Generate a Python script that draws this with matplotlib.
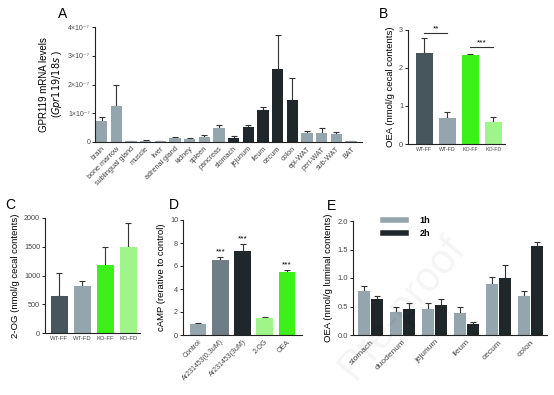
import numpy as np
import matplotlib
matplotlib.use("Agg")
import matplotlib.pyplot as plt
from matplotlib.lines import Line2D

plt.rcParams['font.family'] = ['Liberation Sans', 'DejaVu Sans']

# ---- data ----
tissues = ["brain", "bone marrow", "sublingual gland", "muscle", "liver", "adrenal gland",
           "kidney", "spleen", "pancreas", "stomach", "jejunum", "ileum", "cecum", "colon",
           "epi-WAT", "peri-WAT", "sub-WAT", "BAT"]
gpr119 = [0.72, 1.25, 0.03, 0.04, 0.03, 0.14, 0.10, 0.16, 0.47, 0.13, 0.52, 1.12, 2.55, 1.46,
          0.30, 0.33, 0.28, 0.03]
gpr119_err = [0.15, 0.75, 0.01, 0.04, 0.01, 0.05, 0.04, 0.07, 0.13, 0.07, 0.08, 0.11, 1.18, 0.76,
              0.10, 0.17, 0.07, 0.02]
gut = ["stomach", "jejunum", "ileum", "cecum", "colon"]

groups = ["WT-FF", "WT-FD", "KO-FF", "KO-FD"]
oea_cecal = [2.40, 0.68, 2.33, 0.57]
oea_cecal_err = [0.40, 0.17, 0.05, 0.13]

og_cecal = [640, 820, 1190, 1490]
og_cecal_err = [410, 80, 300, 420]

treatments = ["Control", "Ar231453(0.3uM)", "Ar231453(3uM)", "2-OG", "OEA"]
camp = [1.0, 6.5, 7.3, 1.45, 5.45]
camp_err = [0.08, 0.25, 0.6, 0.13, 0.2]

sites = ["stomach", "duodenum", "jejunum", "ileum", "cecum", "colon"]
oea_1h = [0.78, 0.40, 0.45, 0.38, 0.90, 0.69]
oea_1h_err = [0.08, 0.10, 0.12, 0.12, 0.12, 0.08]
oea_2h = [0.64, 0.45, 0.53, 0.20, 1.00, 1.56]
oea_2h_err = [0.04, 0.11, 0.10, 0.03, 0.22, 0.07]

LIGHT = "#95a5ae"
DARK = "#1f272b"
SLATE = "#47555d"
MID = "#6e7d86"
GREEN = "#3ef01a"
LGREEN = "#a0f58a"
TICK = "#444444"

W, H = 554, 395
fig = plt.figure(figsize=(W / 100, H / 100), dpi=100)


def box(x0, x1, ytop, ybot):
    return [x0 / W, (H - ybot) / H, (x1 - x0) / W, (ybot - ytop) / H]


def style(ax, xsize=4.5, ysize=5.2):
    for s in ["top", "right"]:
        ax.spines[s].set_visible(False)
    for s in ["left", "bottom"]:
        ax.spines[s].set_linewidth(0.8)
        ax.spines[s].set_color("#222222")
    ax.tick_params(axis="both", length=2, width=0.7, colors="#222222",
                   labelcolor=TICK, pad=1.5)
    ax.tick_params(axis="y", labelsize=ysize)
    ax.tick_params(axis="x", length=0, labelsize=xsize, pad=2.5)


def bars(ax, x, vals, errs, colors, width=0.75):
    ax.bar(x, vals, width=width, color=colors, zorder=2)
    ax.errorbar(x, vals, yerr=[np.zeros(len(vals)), errs], fmt="none", ecolor="#333333",
                elinewidth=0.8, capsize=2.3, capthick=0.8, zorder=1)


# ---- A ----
axA = fig.add_axes(box(95, 362, 27, 142))
colA = [DARK if t in gut else LIGHT for t in tissues]
xA = np.arange(len(tissues))
bars(axA, xA, np.array(gpr119) * 1e-7, np.array(gpr119_err) * 1e-7, colA, width=0.78)
axA.set_xlim(-0.45, len(tissues) - 0.25)
axA.set_ylim(0, 4e-7)
axA.set_yticks([0, 1e-7, 2e-7, 3e-7, 4e-7])
axA.set_yticklabels(["0", "1×10⁻⁷", "2×10⁻⁷", "3×10⁻⁷", "4×10⁻⁷"])
axA.set_xticks(xA)
axA.set_xticklabels(tissues, rotation=45, ha="right", rotation_mode="anchor")
style(axA, xsize=5.2, ysize=5.0)
axA.set_ylabel("GPR119 mRNA levels\n(" + r"$\it{Gpr119/18s}$" + " )", fontsize=7, labelpad=3,
               linespacing=1.1)

# ---- B ----
axB = fig.add_axes(box(408, 505, 30, 144))
xB = np.arange(4)
bars(axB, xB, oea_cecal, oea_cecal_err, [SLATE, LIGHT, GREEN, LGREEN])
axB.set_xlim(-0.7, 3.5)
axB.set_ylim(0, 3)
axB.set_yticks([0, 1, 2, 3])
axB.set_xticks(xB)
axB.set_xticklabels(groups)
style(axB, xsize=3.8, ysize=5.2)
axB.set_ylabel("OEA (nmol/g cecal contents)", fontsize=6.8, labelpad=3)
axB.plot([0, 1], [2.93, 2.93], color="#333333", lw=0.8, clip_on=False)
axB.text(0.5, 2.95, "**", ha="center", va="bottom", fontsize=6)
axB.plot([2, 3], [2.56, 2.56], color="#333333", lw=0.8, clip_on=False)
axB.text(2.5, 2.58, "***", ha="center", va="bottom", fontsize=6)

# ---- C ----
axC = fig.add_axes(box(45, 140, 218, 333))
bars(axC, xB, og_cecal, og_cecal_err, [SLATE, LIGHT, GREEN, LGREEN])
axC.set_xlim(-0.62, 3.5)
axC.set_ylim(0, 2000)
axC.set_yticks([0, 500, 1000, 1500, 2000])
axC.set_xticks(xB)
axC.set_xticklabels(groups)
style(axC, xsize=4.2, ysize=5.2)
axC.set_ylabel("2-OG (nmol/g cecal contents)", fontsize=6.8, labelpad=3)

# ---- D ----
axD = fig.add_axes(box(183, 302, 220, 335))
xD = np.arange(len(treatments))
bars(axD, xD, camp, camp_err, [LIGHT, MID, DARK, LGREEN, GREEN])
axD.set_xlim(-0.68, len(treatments) - 0.32)
axD.set_ylim(0, 10)
axD.set_yticks([0, 2, 4, 6, 8, 10])
axD.set_xticks(xD)
axD.set_xticklabels(treatments, rotation=45, ha="right", rotation_mode="anchor")
style(axD, xsize=5.0, ysize=5.2)
axD.set_ylabel("cAMP (rerative to control)", fontsize=6.8, labelpad=3)
for i in [1, 2, 4]:
    axD.text(xD[i], camp[i] + camp_err[i] + 0.15, "***", ha="center", va="bottom", fontsize=6)

# ---- E ----
axE = fig.add_axes(box(353, 547, 221, 335))
xE = np.arange(len(sites))
off = 0.2
bars(axE, xE - off, oea_1h, oea_1h_err, LIGHT, width=0.37)
bars(axE, xE + off, oea_2h, oea_2h_err, DARK, width=0.37)
axE.set_xlim(-0.555, len(sites) - 0.48)
axE.set_ylim(0, 2.0)
axE.set_yticks([0, 0.5, 1.0, 1.5, 2.0])
axE.set_yticklabels(["0.0", "0.5", "1.0", "1.5", "2.0"])
axE.set_xticks(xE)
axE.set_xticklabels(sites, rotation=45, ha="right", rotation_mode="anchor")
style(axE, xsize=6.0, ysize=5.4)
axE.set_ylabel("OEA (nmol/g luminal contents)", fontsize=6.8, labelpad=3)
axE.legend(handles=[Line2D([], [], color=LIGHT, lw=4), Line2D([], [], color=DARK, lw=4)],
           labels=["1h", "2h"], loc="upper left", bbox_to_anchor=(0.12, 1.1), frameon=False,
           handlelength=2.6, handletextpad=1.5, labelspacing=0.5, borderpad=0.2,
           prop={"weight": "bold", "size": 6.5})

# ---- panel letters ----
for letter, px, py in [("A", 63, 14), ("B", 383, 14), ("C", 10, 205), ("D", 174, 205),
                       ("E", 332, 206)]:
    fig.text(px / W, 1 - py / H, letter, fontsize=10, ha="center", va="center")

# faint watermark
fig.text(402 / W, 1 - 308 / H, "Pre-proof", fontsize=30, color="#000000", alpha=0.045,
         rotation=50, ha="center", va="center")

fig.savefig("out.png", dpi=100)
